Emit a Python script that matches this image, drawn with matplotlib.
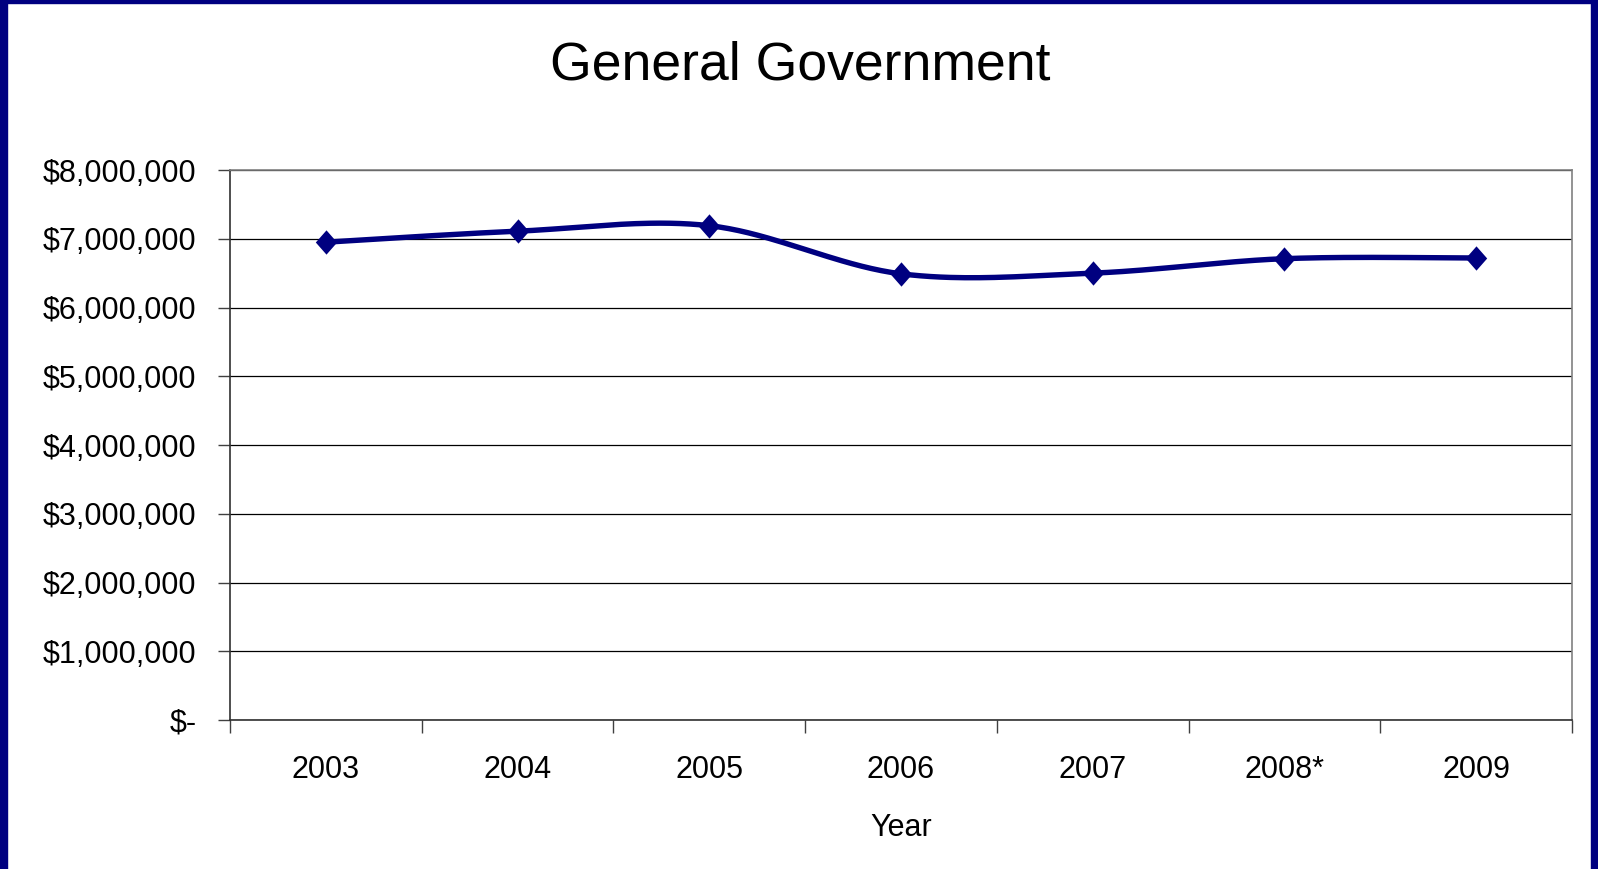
import numpy as np
import matplotlib.pyplot as plt
from matplotlib.patches import Rectangle
from matplotlib.ticker import FuncFormatter, MultipleLocator

plt.rcParams['font.family'] = ['Liberation Sans', 'DejaVu Sans']

years = ["2003", "2004", "2005", "2006", "2007", "2008*", "2009"]
spending = [6950000, 7110000, 7190000, 6490000, 6500000, 6710000, 6720000]

navy = "#000080"
diamond = [(0, 1), (0.88, 0), (0, -1), (-0.88, 0), (0, 1)]


def smooth_curve(xs, ys, n=40):
    # Catmull-Rom style smoothing like Excel's "smoothed line"
    xs = np.asarray(xs, float)
    ys = np.asarray(ys, float)
    px = np.concatenate([[xs[0]], xs, [xs[-1]]])
    py = np.concatenate([[ys[0]], ys, [ys[-1]]])
    out_x, out_y = [], []
    t = np.linspace(0, 1, n)
    for i in range(1, len(px) - 2):
        p0 = np.array([px[i], py[i]])
        p3 = np.array([px[i + 1], py[i + 1]])
        c1 = p0 + (np.array([px[i + 1], py[i + 1]]) - np.array([px[i - 1], py[i - 1]])) / 6
        c2 = p3 - (np.array([px[i + 2], py[i + 2]]) - np.array([px[i], py[i]])) / 6
        b = ((1 - t) ** 3)[:, None] * p0 + (3 * (1 - t) ** 2 * t)[:, None] * c1 \
            + (3 * (1 - t) * t ** 2)[:, None] * c2 + (t ** 3)[:, None] * p3
        out_x.extend(b[:, 0])
        out_y.extend(b[:, 1])
    return np.array(out_x), np.array(out_y)


fig = plt.figure(figsize=(15.98, 8.69), dpi=100)
ax = fig.add_axes([230 / 1598, 1 - 720 / 869, (1572 - 230) / 1598, (720 - 170) / 869])

x = np.arange(len(years))
sx, sy = smooth_curve(x, spending)
ax.plot(sx, sy, color=navy, lw=3.9, solid_capstyle="round", zorder=3)
ax.plot(x, spending, linestyle="none", marker=diamond, markersize=17.5,
        markeredgewidth=0, color=navy, zorder=4)

ax.set_xlim(-0.5, len(years) - 0.5)
ax.set_ylim(0, 8000000)

ax.yaxis.set_major_locator(MultipleLocator(1000000))
ax.yaxis.set_major_formatter(FuncFormatter(lambda v, p: "$-" if v == 0 else f"${v:,.0f}"))
ax.grid(axis="y", color="black", lw=0.9)
ax.set_axisbelow(True)

ax.set_xticks(x)
ax.set_xticklabels(years)
ax.set_xticks(np.arange(-0.5, len(years), 1), minor=True)
ax.tick_params(axis="x", which="major", length=0, pad=25, labelsize=22)
ax.tick_params(axis="x", which="minor", length=9, width=1, direction="out", color="#404040")
ax.tick_params(axis="y", length=9, width=1, color="#404040", pad=15, labelsize=22)

for s in ["top", "right"]:
    ax.spines[s].set_color("#808080")
    ax.spines[s].set_linewidth(1.2)
for s in ["left", "bottom"]:
    ax.spines[s].set_color("#303030")
    ax.spines[s].set_linewidth(1.2)

ax.set_xlabel("Year", fontsize=22, labelpad=20)
fig.text(800 / 1598, 1 - 66 / 869, "General Government", fontsize=38.5,
         ha="center", va="center")

# dark blue slide border
fig.patches.append(Rectangle((0, 0), 7 / 1598, 1, transform=fig.transFigure, color=navy))
fig.patches.append(Rectangle((1 - 7 / 1598, 0), 7 / 1598, 1, transform=fig.transFigure, color=navy))
fig.patches.append(Rectangle((0, 1 - 3 / 869), 1, 3 / 869, transform=fig.transFigure, color=navy))

fig.savefig("out.png", dpi=100)
